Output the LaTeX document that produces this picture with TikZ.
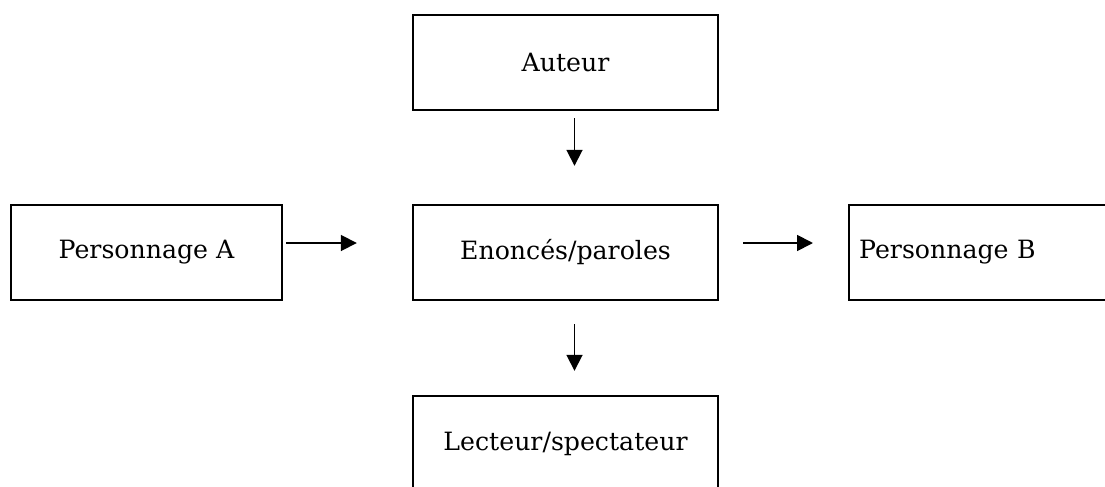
\documentclass[tikz,border=0pt]{standalone}
\usepackage{fontspec}
\setmainfont{DejaVu Serif}
\usetikzlibrary{arrows.meta}
\begin{document}
\begin{tikzpicture}[x=0.5pt,y=-0.5pt,
  box/.style={draw,line width=1.2pt,minimum height=47.5pt,inner sep=0pt,
    font=\fontsize{12.6}{15}\selectfont},
  arr/.style={line width=0.9pt,-{Triangle[length=8pt,width=8pt]}}]
\useasboundingbox (0,0) rectangle (1105,487);
\clip (0,0) rectangle (1105,487);
\node[box,minimum width=152.5pt] (auteur) at (565.5,62.5) {Auteur};
\node[box,minimum width=135.5pt] (persA) at (146.5,252.5) {Personnage A};
\node[box,minimum width=152.5pt] (enonce) at (565.5,252.5) {Enoncés/paroles};
\node[box,anchor=west,text width=142.5pt,inner xsep=5pt,align=left] (persB) at (848,252.5) {Personnage B};
\node[box,minimum width=152.5pt] (lecteur) at (565.5,443.5) {Lecteur/spectateur};
\draw[arr,shorten <=3.5pt,shorten >=19pt] ([xshift=4.5pt]auteur.south) -- ([xshift=4.5pt]enonce.north);
\draw[arr,shorten <=11.5pt,shorten >=12pt] ([xshift=4.5pt]enonce.south) -- ([xshift=4.5pt]lecteur.north);
\draw[arr,shorten <=1.5pt,shorten >=27.5pt] ([yshift=4.75pt]persA.east) -- ([yshift=4.75pt]enonce.west);
\draw[arr,shorten <=12pt,shorten >=17.5pt] ([yshift=4.75pt]enonce.east) -- ([yshift=4.75pt]persB.west);
\end{tikzpicture}
\end{document}
